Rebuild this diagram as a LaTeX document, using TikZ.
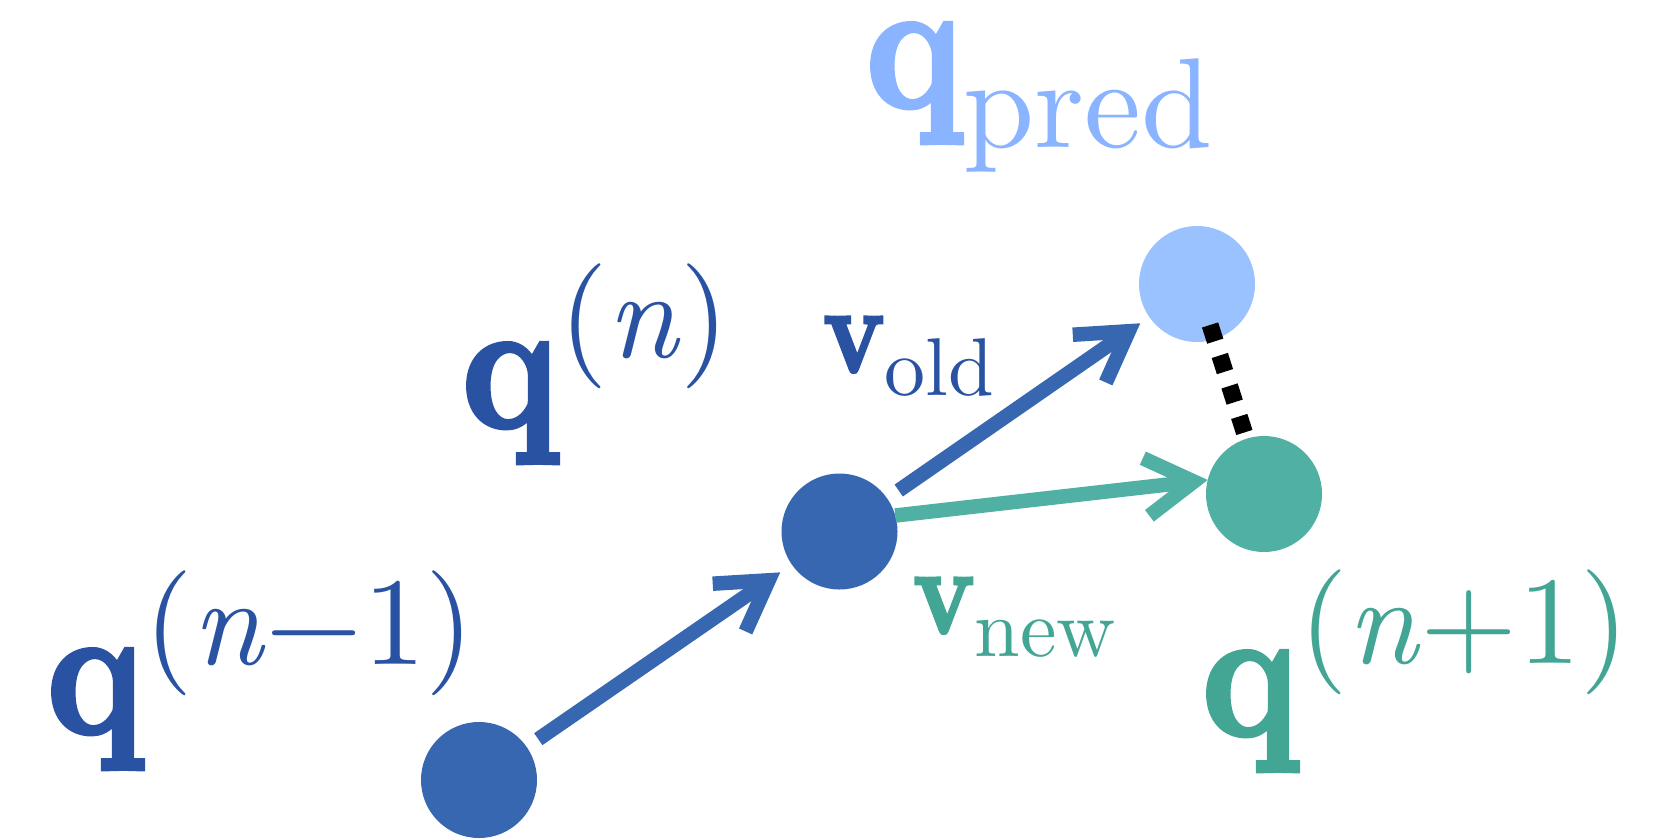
\documentclass[tikz,border=0pt]{standalone}
\usepackage{fontspec}
\setmainfont{lmroman10-regular.otf}[BoldFont=lmroman10-bold.otf,ItalicFont=lmroman10-italic.otf]
\newfontface\qbf{lmroman10-bold.otf}[FakeBold=2.5]
\usepackage{graphicx}
\usetikzlibrary{arrows.meta,calc}
\definecolor{dblue}{RGB}{41,82,163}
\definecolor{mblue}{RGB}{54,103,176}
\definecolor{lblue}{RGB}{153,194,255}
\definecolor{ptext}{RGB}{138,180,255}
\definecolor{tealc}{RGB}{80,176,163}
\definecolor{ttext}{RGB}{67,165,148}
\newcommand{\bigq}{{\fontsize{186}{186}\qbf\scalebox{0.86}[1]{q}}}
\newcommand{\bigv}{{\fontsize{124}{124}\qbf\scalebox{0.82}[1]{v}}}
\newcommand{\supx}[2]{\raisebox{#1}{\fontsize{125}{125}\selectfont #2}}
\newcommand{\subx}[3]{\raisebox{-#1}{\fontsize{#2}{#2}\selectfont #3}}
\begin{document}
\begin{tikzpicture}[x=1pt,y=-1pt,
  dot/.style={circle,minimum size=116pt,inner sep=0pt,outer sep=0pt},
  vec/.style={line width=14.5pt,-{Straight Barb[length=48pt,width=58pt]}},
  lab/.style={anchor=base west,inner sep=0pt,outer sep=0pt}]
\useasboundingbox (0,0) rectangle (1670,839);
\node[dot,fill=mblue] (c1) at (479,780) {};
\node[dot,fill=mblue] (c2) at (839.5,531.5) {};
\node[dot,fill=lblue] (c3) at (1197,284) {};
\node[dot,fill=tealc] (c4) at (1264,494) {};
\draw[vec,mblue,shorten <=14pt,shorten >=14pt] (c1) -- (c2);
\draw[vec,mblue,shorten <=14pt,shorten >=11pt] (c2) -- (c3);
\draw[vec,tealc] (c2.16) -- (c4.166);
\draw[line width=17pt,black,dash pattern=on 17pt off 15pt,shorten <=-15pt,shorten >=6.6pt] (c3) -- (c4);
\node[lab,dblue] (l1) at (47,733) {\bigq\supx{69pt}{(\textit{n}−1)}};
\node[lab,dblue] (l2) at (462,427) {\bigq\supx{70pt}{(\textit{n})}};
\node[lab,ttext] (l3) at (1202,735) {\bigq\supx{72pt}{(\textit{n}+1)}};
\node[lab,ptext] (lp) at (866,107) {\bigq\subx{40pt}{128}{pred}};
\node[lab,dblue] (lv1) at (823,372) {\bigv\subx{23pt}{82}{old}};
\node[lab,ttext] (lv2) at (913,633) {\bigv\subx{23pt}{82}{new}};
\end{tikzpicture}
\end{document}
